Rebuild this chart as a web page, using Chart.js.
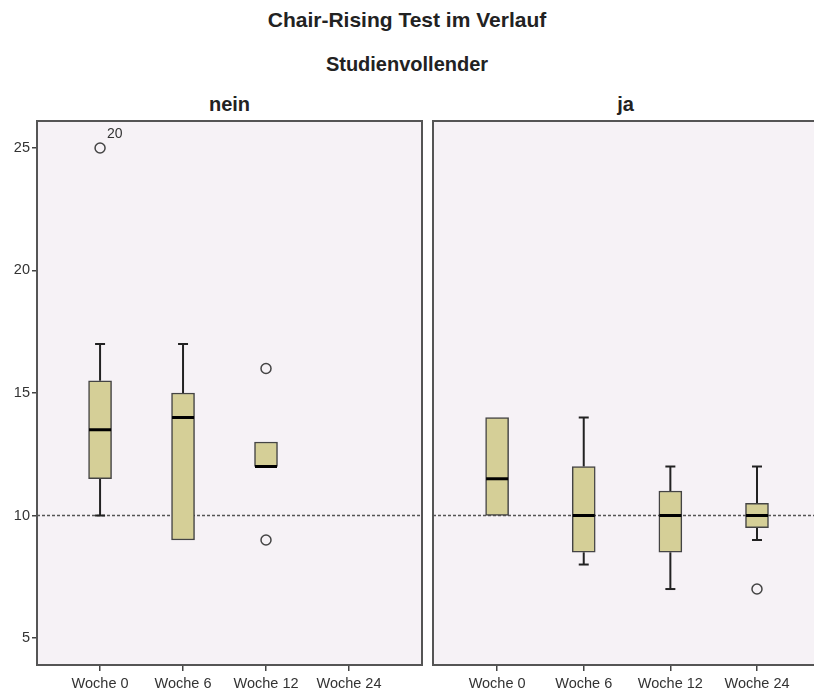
<!DOCTYPE html>
<html>
<head>
<meta charset="utf-8">
<script src="https://cdn.jsdelivr.net/npm/chart.js@4.4.1/dist/chart.umd.min.js"></script>
<style>
   html, body { margin: 0; padding: 0; background: #fff; overflow: hidden; }
   #wrap { position: relative; width: 814px; height: 697px; overflow: hidden; font-family: Arial, "Liberation Sans", sans-serif; color: #222; }
   .t { position: absolute; text-align: center; font-weight: bold; line-height: 24px; }
   #title { left: 0; width: 814px; top: 8px; font-size: 21px; }
   #sub { left: 0; width: 814px; top: 52px; font-size: 20px; }
   #nein { left: 37px; width: 385px; top: 92px; font-size: 20px; }
   #ja { left: 433px; width: 385px; top: 92px; font-size: 20px; }
   canvas { position: absolute; }
   #left { left: 0; top: 110px; }
   #right { left: 425px; top: 110px; }
</style>
</head>
<body>
<div id="wrap">
   <div class="t" id="title">Chair-Rising Test im Verlauf</div>
   <div class="t" id="sub">Studienvollender</div>
   <div class="t" id="nein">nein</div>
   <div class="t" id="ja">ja</div>
   <canvas id="left" width="430" height="587"></canvas>
   <canvas id="right" width="400" height="587"></canvas>
</div>
<script>
// Kategorien und Achsen
const weeks = ['Woche 0', 'Woche 6', 'Woche 12', 'Woche 24']
const yTicks = [5, 10, 15, 20, 25]
const refLine = 10

// Studienvollender: nein
const neinPos = [0, 1, 2]
const neinLow = [10, 9, 12]
const neinQ1 = [11.5, 9, 12]
const neinMed = [13.5, 14, 12]
const neinQ3 = [15.5, 15, 13]
const neinHigh = [17, 17, 13]
const neinOutX = [0, 2, 2]
const neinOutY = [25, 16, 9]
const neinOutId = ['20', '', '']

// Studienvollender: ja
const jaPos = [0, 1, 2, 3]
const jaLow = [10, 8, 7, 9]
const jaQ1 = [10, 8.5, 8.5, 9.5]
const jaMed = [11.5, 10, 10, 10]
const jaQ3 = [14, 12, 11, 10.5]
const jaHigh = [14, 14, 12, 12]
const jaOutX = [3]
const jaOutY = [7]
const jaOutId = ['']

const panelBg = '#f6f2f6'
const boxFill = '#d5cf97'
const lineCol = '#444'
const fontFam = 'Arial, "Liberation Sans", sans-serif'

// Whisker, Median, Hintergrund, Rahmen und Referenzlinie
const boxplotPlugin = {
   id: 'boxplot',
   beforeDraw(chart) {
      const a = chart.chartArea, ctx = chart.ctx
      ctx.save()
      ctx.fillStyle = panelBg
      ctx.fillRect(a.left, a.top, a.right - a.left, a.bottom - a.top)
      ctx.restore()
   },
   beforeDatasetsDraw(chart) {
      const d = chart.options.plugins.boxplot
      const a = chart.chartArea, ctx = chart.ctx
      const xs = chart.scales.x, ys = chart.scales.y
      ctx.save()
      // Referenzlinie
      const yr = ys.getPixelForValue(refLine)
      ctx.strokeStyle = '#555'
      ctx.lineWidth = 1.5
      ctx.setLineDash([3, 2])
      ctx.beginPath()
      ctx.moveTo(a.left, yr)
      ctx.lineTo(a.right, yr)
      ctx.stroke()
      ctx.setLineDash([])
      // Whisker
      ctx.strokeStyle = '#222'
      ctx.lineWidth = 2
      d.pos.forEach((p, i) => {
         const x = xs.getPixelForValue(p)
         const segs = []
         if (d.low[i] < d.q1[i]) segs.push([d.low[i], d.q1[i]])
         if (d.high[i] > d.q3[i]) segs.push([d.q3[i], d.high[i]])
         segs.forEach(([from, to]) => {
            ctx.beginPath()
            ctx.moveTo(x, ys.getPixelForValue(from))
            ctx.lineTo(x, ys.getPixelForValue(to))
            ctx.stroke()
         })
         if (d.low[i] < d.q1[i]) {
            const y = ys.getPixelForValue(d.low[i])
            ctx.beginPath(); ctx.moveTo(x - 5, y); ctx.lineTo(x + 5, y); ctx.stroke()
         }
         if (d.high[i] > d.q3[i]) {
            const y = ys.getPixelForValue(d.high[i])
            ctx.beginPath(); ctx.moveTo(x - 5, y); ctx.lineTo(x + 5, y); ctx.stroke()
         }
      })
      ctx.restore()
   },
   afterDatasetsDraw(chart) {
      const d = chart.options.plugins.boxplot
      const ctx = chart.ctx
      const xs = chart.scales.x, ys = chart.scales.y
      ctx.save()
      ctx.strokeStyle = '#000'
      ctx.lineWidth = 3
      d.pos.forEach((p, i) => {
         const x = xs.getPixelForValue(p)
         const y = ys.getPixelForValue(d.med[i])
         ctx.beginPath()
         ctx.moveTo(x - 11, y)
         ctx.lineTo(x + 11, y)
         ctx.stroke()
      })
      // Fallnummern der Ausreißer
      ctx.fillStyle = '#333'
      ctx.font = '14px ' + fontFam
      ctx.textBaseline = 'middle'
      d.outX.forEach((p, i) => {
         if (!d.outId[i]) return
         ctx.fillText(d.outId[i], xs.getPixelForValue(p) + 7, ys.getPixelForValue(d.outY[i]) - 14)
      })
      ctx.restore()
   },
   afterDraw(chart) {
      const a = chart.chartArea, ctx = chart.ctx
      ctx.save()
      ctx.strokeStyle = '#555'
      ctx.lineWidth = 2
      ctx.strokeRect(a.left, a.top, a.right - a.left, a.bottom - a.top)
      ctx.restore()
   }
}

function makePanel(id, d, showY, xMin, xMax, pad) {
   return new Chart(document.getElementById(id), {
      type: 'bar',
      data: {
         datasets: [
            {
               type: 'bar',
               data: d.q1.map((v, i) => ({ x: d.pos[i], y: [v, d.q3[i]] })),
               backgroundColor: boxFill,
               borderColor: lineCol,
               borderWidth: 1.5,
               borderSkipped: false,
               barThickness: 23,
               order: 2
            },
            {
               type: 'scatter',
               data: d.outX.map((x, i) => ({ x: x, y: d.outY[i] })),
               pointRadius: 5,
               pointBackgroundColor: panelBg,
               pointBorderColor: lineCol,
               pointBorderWidth: 1.5,
               order: 1
            }
         ]
      },
      options: {
         responsive: false,
         animation: false,
         devicePixelRatio: 1,
         layout: { padding: pad },
         plugins: {
            legend: { display: false },
            tooltip: { enabled: false },
            boxplot: d
         },
         scales: {
            x: {
               type: 'linear',
               min: xMin,
               max: xMax,
               offset: false,
               afterBuildTicks: s => { s.ticks = weeks.map((_, i) => ({ value: i })) },
               afterFit: s => { s.height = 32 },
               grid: { offset: false, drawOnChartArea: false, tickLength: 6, color: lineCol, lineWidth: 1.5 },
               border: { display: false },
               ticks: {
                  callback: v => weeks[v],
                  color: '#333',
                  font: { size: 14.5, family: fontFam },
                  padding: 4,
                  maxRotation: 0,
                  autoSkip: false
               }
            },
            y: {
               display: showY,
               min: 3.9,
               max: 26.1,
               afterBuildTicks: s => { s.ticks = yTicks.map(v => ({ value: v })) },
               afterFit: s => { s.width = showY ? 37 : 0 },
               grid: { drawOnChartArea: false, tickLength: 5, color: lineCol, lineWidth: 1.5 },
               border: { display: false },
               ticks: {
                  color: '#333',
                  font: { size: 14.5, family: fontFam },
                  padding: 2
               }
            }
         }
      },
      plugins: [boxplotPlugin]
   })
}

makePanel('left', {
   pos: neinPos, low: neinLow, q1: neinQ1, med: neinMed, q3: neinQ3, high: neinHigh,
   outX: neinOutX, outY: neinOutY, outId: neinOutId
}, true, -0.76, 3.88, { top: 11, right: 8, left: 0, bottom: 0 })

makePanel('right', {
   pos: jaPos, low: jaLow, q1: jaQ1, med: jaMed, q3: jaQ3, high: jaHigh,
   outX: jaOutX, outY: jaOutY, outId: jaOutId
}, false, -0.74, 3.71, { top: 11, right: 0, left: 8, bottom: 0 })
</script>
</body>
</html>
